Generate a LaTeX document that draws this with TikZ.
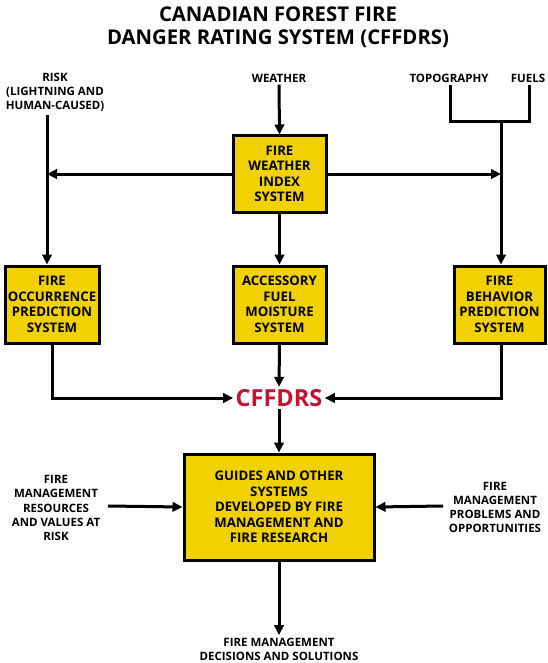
\documentclass[tikz,border=0pt]{standalone}
\usepackage{fontspec}
\setmainfont{Open Sans}
\usetikzlibrary{arrows.meta}
\definecolor{boxyellow}{HTML}{F2D100}
\definecolor{cfred}{HTML}{C4122F}
\begin{document}
\begin{tikzpicture}[x=1pt,y=-1pt,
  line width=3pt,
  arr/.style={-{Triangle[length=10pt,width=9.5pt]}},
  sysbox/.style={draw=black,line width=3pt,fill=boxyellow,align=center,inner sep=0pt,
     font=\fontsize{13.2}{15.5}\selectfont\bfseries},
  lbl/.style={align=center,inner sep=1pt,font=\fontsize{11.5}{14.2}\selectfont\bfseries},
  ttl/.style={align=center,inner sep=0pt,font=\fontsize{20.3}{23}\selectfont\bfseries}]
\useasboundingbox (0,0) rectangle (547,663);
% title
\node[ttl] (title) at (278,27) {CANADIAN FOREST FIRE\\DANGER RATING SYSTEM (CFFDRS)};
% inputs
\node[lbl] (risk) at (55,92) {RISK\\(LIGHTNING AND\\HUMAN-CAUSED)};
\node[lbl] (weather) at (279,78) {WEATHER};
\node[lbl] (topo) at (449,78) {TOPOGRAPHY};
\node[lbl] (fuels) at (528,78) {FUELS};
% boxes
\node[sysbox,minimum width=93pt,minimum height=76pt] (fwi) at (279.5,174) {FIRE\\WEATHER\\INDEX\\SYSTEM};
\node[sysbox,minimum width=94pt,minimum height=77pt] (fop) at (52,304.5) {FIRE\\OCCURRENCE\\PREDICTION\\SYSTEM};
\node[sysbox,minimum width=93pt,minimum height=77pt] (afm) at (279.5,304.5) {ACCESSORY\\FUEL\\MOISTURE\\SYSTEM};
\node[sysbox,minimum width=91pt,minimum height=77pt] (fbp) at (499.5,304.5) {FIRE\\BEHAVIOR\\PREDICTION\\SYSTEM};
\node[inner sep=1pt,text=cfred,font=\fontsize{23.5}{23.5}\selectfont\bfseries] (cffdrs) at (279,398) {CFFDRS};
\node[sysbox,minimum width=190pt,minimum height=106pt] (guides) at (279,507) {GUIDES AND OTHER\\SYSTEMS\\DEVELOPED BY FIRE\\MANAGEMENT AND\\FIRE RESEARCH};
\node[lbl] (resources) at (56,508) {FIRE\\MANAGEMENT\\RESOURCES\\AND VALUES AT\\RISK};
\node[lbl] (problems) at (495,507.5) {FIRE\\MANAGEMENT\\PROBLEMS AND\\OPPORTUNITIES};
\node[lbl] (decisions) at (279,649) {FIRE MANAGEMENT\\DECISIONS AND SOLUTIONS};
% helper coordinates
\coordinate (rl) at (47,115);
\coordinate (tj) at (501,122);
\coordinate (resend) at (108,506);
\coordinate (probend) at (443,506);
% connectors
\draw[arr] (weather.south) -- (fwi.north);
\draw[arr] (rl) -- (rl |- fop.north);
\draw[arr] (fwi.west) -- (rl |- fwi.west);
\draw (topo.south -| 450,0) |- (tj) -| (fuels.south -| 529,0);
\draw[arr] (tj) -- (tj |- fbp.north);
\draw[arr] (fwi.east) -- (tj |- fwi.east);
\draw[arr] (fwi.south) -- (afm.north);
\draw[arr] (fop.south) |- (cffdrs.west);
\draw[arr] (afm.south) -- (cffdrs.north);
\draw[arr] (fbp.south -| tj) |- (cffdrs.east);
\draw[arr] (cffdrs.south) -- (guides.north);
\draw[arr] (resend) -- (guides.west);
\draw[arr] (probend) -- (guides.east);
\draw[arr] (guides.south) -- (decisions.north);
\end{tikzpicture}
\end{document}
